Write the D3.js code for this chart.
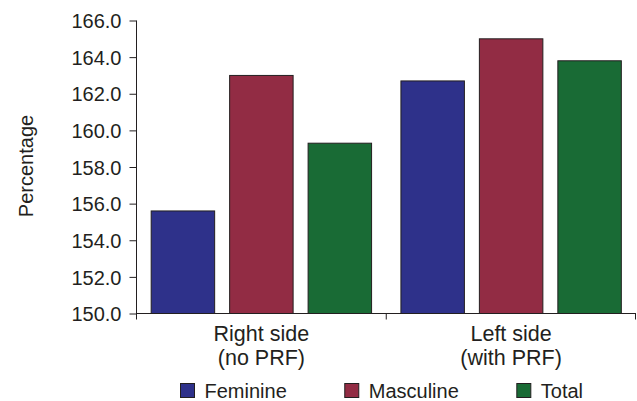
<!DOCTYPE html>
<html><head><meta charset="utf-8">
<script src="https://cdn.jsdelivr.net/npm/d3@7"></script>
<style>
html,body{margin:0;padding:0;background:#fff;}
text{font-family:"Liberation Sans",Arial,Helvetica,sans-serif;fill:#231f20;}
</style></head>
<body>
<svg id="chart" width="637" height="401"></svg>
<script>
const categories = [["Right side","(no PRF)"],["Left side","(with PRF)"]];
const seriesNames = ["Feminine","Masculine","Total"];
const feminine = [155.6, 162.7];
const masculine = [163.0, 165.0];
const total = [159.3, 163.8];
const seriesValues = [feminine, masculine, total];
const colors = ["#2e318a","#922c44","#196b35"];
const yTicks = [150,152,154,156,158,160,162,164,166];

const svg = d3.select("#chart");
const x0 = d3.scaleBand().domain(d3.range(categories.length)).range([136.5, 636]).paddingInner(0).paddingOuter(0);
const x1 = d3.scaleBand().domain(seriesNames).range([0, x0.bandwidth()]).paddingInner(0.191).paddingOuter(0.187);
const y = d3.scaleLinear().domain([150,166]).range([313.5, 20.5]);

// bars
categories.forEach((c,i)=>{
  const g = svg.append("g").attr("transform",`translate(${x0(i)},0)`);
  seriesNames.forEach((s,j)=>{
    const v = seriesValues[j][i];
    g.append("rect")
      .attr("x", x1(s)).attr("y", y(v))
      .attr("width", x1.bandwidth()).attr("height", y(150)-y(v))
      .attr("fill", colors[j]).attr("stroke","#231f20").attr("stroke-width",1);
  });
});

// y axis
const yAxis = d3.axisLeft(y).tickValues(yTicks).tickFormat(d3.format(".1f")).tickSize(7).tickPadding(8).tickSizeOuter(0);
const ga = svg.append("g").attr("transform","translate(136.5,0)").call(yAxis);
ga.select(".domain").remove();
ga.selectAll("line").attr("stroke","#231f20");
ga.selectAll("text").style("font-size","20px").attr("fill","#231f20").attr("dy","0.36em");
svg.append("line").attr("x1",136.5).attr("x2",136.5).attr("y1",y(166)).attr("y2",y(150)+6).attr("stroke","#231f20");

// x axis
svg.append("line").attr("x1",136.5).attr("x2",636).attr("y1",y(150)).attr("y2",y(150)).attr("stroke","#231f20");
const bounds = [x0(0), x0(1), x0(1)+x0.bandwidth()-0.5];
bounds.slice(1).forEach(b=>{
  svg.append("line").attr("x1",b).attr("x2",b).attr("y1",y(150)).attr("y2",y(150)+6).attr("stroke","#231f20");
});
categories.forEach((c,i)=>{
  const t = svg.append("text").attr("text-anchor","middle").style("font-size","21.5px")
    .attr("x", x0(i)+x0.bandwidth()/2).attr("y", 341);
  c.forEach((line,k)=>{
    t.append("tspan").attr("x", x0(i)+x0.bandwidth()/2).attr("y", 340.5 + k*24.5).text(line);
  });
});

// y label
svg.append("text").attr("transform","translate(33,166) rotate(-90)").attr("text-anchor","middle")
  .style("font-size","20px").text("Percentage");

// legend
let lx = 180.5;
seriesNames.forEach((s,j)=>{
  svg.append("rect").attr("x",lx).attr("y",383.5).attr("width",14).attr("height",14)
    .attr("fill",colors[j]).attr("stroke","#231f20").attr("stroke-width",1);
  const t = svg.append("text").attr("x",lx+24).attr("y",398).style("font-size","20px").text(s);
  lx += 24 + t.node().getComputedTextLength() + 58;
});
</script>
</body></html>
